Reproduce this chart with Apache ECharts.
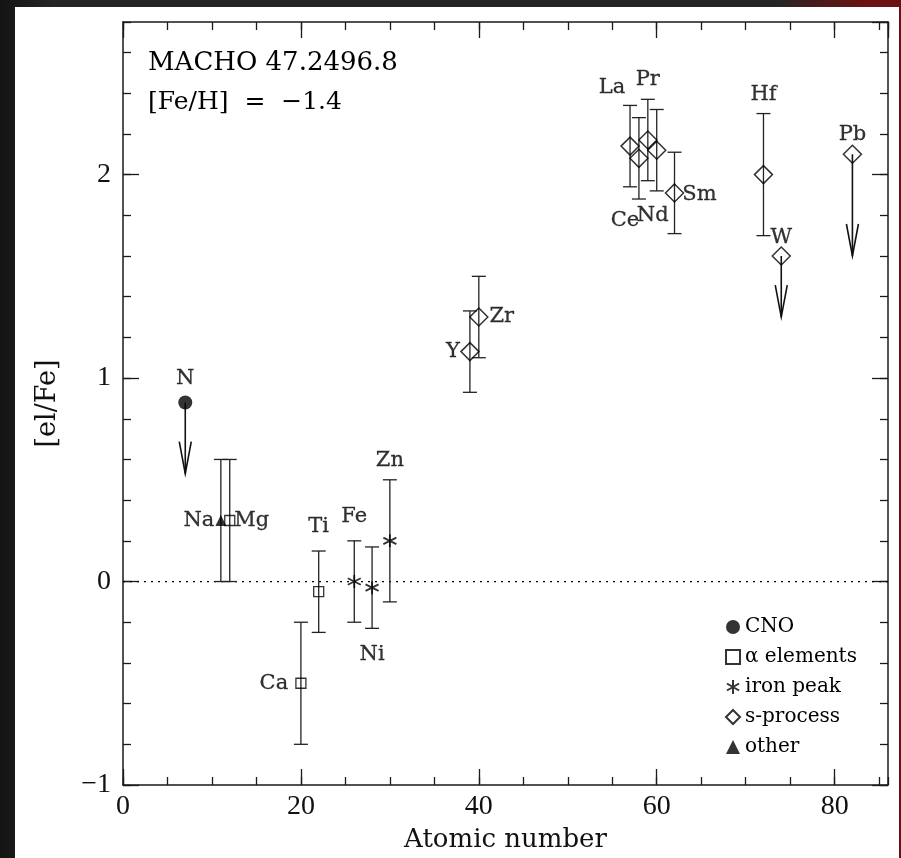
<!DOCTYPE html>
<html>
<head>
<meta charset="utf-8">
<script src="https://cdn.jsdelivr.net/npm/echarts@6/dist/echarts.min.js"></script>
<style>
html, body { margin: 0; padding: 0; width: 901px; height: 858px; overflow: hidden;
  background: linear-gradient(90deg, #141414 0%, #252525 6%, #252525 86%, #6b1111 96%); }
#paper { position: absolute; left: 15px; top: 7px; width: 884px; height: 851px; background: #fff; }
#charts { position: absolute; left: 0; top: 0; width: 901px; height: 858px; }
</style>
</head>
<body>
<div id="paper"></div>
<div id="charts"></div>
<script>
// abundances
var elements     = ['N', 'Na', 'Mg', 'Ca', 'Ti', 'Fe', 'Ni', 'Zn', 'Y', 'Zr', 'La', 'Ce', 'Pr', 'Nd', 'Sm', 'Hf', 'W', 'Pb'];
var atomicNumber = [7, 11, 12, 20, 22, 26, 28, 30, 39, 40, 57, 58, 59, 60, 62, 72, 74, 82];
var elFe         = [0.88, 0.30, 0.30, -0.50, -0.05, 0.00, -0.03, 0.20, 1.13, 1.30, 2.14, 2.08, 2.17, 2.12, 1.91, 2.00, 1.60, 2.10];
var elFeErr      = [null, 0.30, 0.30, 0.30, 0.20, 0.20, 0.20, 0.30, 0.20, 0.20, 0.20, 0.20, 0.20, 0.20, 0.20, 0.30, null, null];
var limitDrop    = [0.35, null, null, null, null, null, null, null, null, null, null, null, null, null, null, null, 0.30, 0.50];
var group        = ['CNO', 'other', 'α elements', 'α elements', 'α elements', 'iron peak', 'iron peak', 'iron peak',
                    's-process', 's-process', 's-process', 's-process', 's-process', 's-process', 's-process',
                    's-process', 's-process', 's-process'];
var groupNames   = ['CNO', 'α elements', 'iron peak', 's-process', 'other'];

// where each element name sits relative to its marker (px)
var labelOffset = {
  N: [0, -24], Na: [-22, 0], Mg: [22, 0], Ca: [-27, 0], Ti: [0, -65], Fe: [0, -65], Ni: [0, 67], Zn: [0, -80],
  Y: [-17, 0], Zr: [23, 0], La: [-18, -59], Ce: [-14, 62], Pr: [0, -60], Nd: [-4, 65], Sm: [25, 2],
  Hf: [0, -80], W: [0, -18], Pb: [0, -20]
};

var serif = 'DejaVu Serif';
var numFont = 'Liberation Serif';
var ink = '#1a1a1a';
var star = 'path://M5,0L5,10M0.67,2.5L9.33,7.5M0.67,7.5L9.33,2.5';

var groupStyle = {
  'CNO':        { symbol: 'circle', symbolSize: 14, itemStyle: { color: '#000' } },
  'α elements': { symbol: 'rect', symbolSize: 10, itemStyle: { color: 'rgba(255,255,255,0)', borderColor: '#000', borderWidth: 1.3 } },
  'iron peak':  { symbol: star, symbolSize: 13, itemStyle: { color: 'rgba(0,0,0,0)', borderColor: '#000', borderWidth: 1.8 } },
  's-process':  { symbol: 'diamond', symbolSize: 18, itemStyle: { color: 'rgba(255,255,255,0)', borderColor: '#000', borderWidth: 1.5 } },
  'other':      { symbol: 'triangle', symbolSize: 11, itemStyle: { color: '#000' } }
};

function axis(pos, min, max, interval, tickLen, opts) {
  var a = {
    type: 'value', position: pos, min: min, max: max, interval: interval,
    axisLine: { show: tickLen > 10, onZero: false, lineStyle: { color: ink, width: 1.5 } },
    axisTick: { inside: true, length: tickLen, lineStyle: { color: ink, width: 1.3 } },
    axisLabel: { show: false },
    splitLine: { show: false }
  };
  return Object.assign(a, opts || {});
}

var errData = [], limData = [];
for (var i = 0; i < elements.length; i++) {
  if (elFeErr[i] != null) errData.push([atomicNumber[i], elFe[i] - elFeErr[i], elFe[i] + elFeErr[i]]);
  if (limitDrop[i] != null) limData.push([atomicNumber[i], elFe[i], elFe[i] - limitDrop[i]]);
}

function renderErrorBar(params, api) {
  var x = api.value(0);
  var lo = api.coord([x, api.value(1)]);
  var hi = api.coord([x, api.value(2)]);
  var cap = 7;
  var st = { stroke: '#222', lineWidth: 1.3 };
  return { type: 'group', children: [
    { type: 'line', shape: { x1: hi[0], y1: hi[1], x2: lo[0], y2: lo[1] }, style: st },
    { type: 'line', shape: { x1: hi[0] - cap, y1: hi[1], x2: hi[0] + cap, y2: hi[1] }, style: st },
    { type: 'line', shape: { x1: lo[0] - cap, y1: lo[1], x2: lo[0] + cap, y2: lo[1] }, style: st }
  ] };
}

function renderArrow(params, api) {
  var x = api.value(0);
  var s = api.coord([x, api.value(1)]);
  var e = api.coord([x, api.value(2)]);
  var st = { stroke: '#111', lineWidth: 1.6, fill: null };
  return { type: 'group', children: [
    { type: 'line', shape: { x1: s[0], y1: s[1], x2: e[0], y2: e[1] }, style: st },
    { type: 'polyline', shape: { points: [[e[0] - 6, e[1] - 32], [e[0], e[1]], [e[0] + 6, e[1] - 32]] }, style: st }
  ] };
}

var scatterSeries = groupNames.map(function (g) {
  var pts = [];
  for (var i = 0; i < elements.length; i++) {
    if (group[i] !== g) continue;
    pts.push({ name: elements[i], value: [atomicNumber[i], elFe[i]], label: { offset: labelOffset[elements[i]] } });
  }
  var gs = groupStyle[g];
  return {
    name: g, type: 'scatter', xAxisIndex: 0, yAxisIndex: 0, z: 4,
    symbol: gs.symbol, symbolSize: gs.symbolSize, itemStyle: gs.itemStyle,
    label: { show: true, position: 'inside', formatter: '{b}', color: '#000', fontFamily: serif, fontSize: 21,
      textBorderColor: '#000', textBorderWidth: 0.3 },
    emphasis: { disabled: true },
    data: pts
  };
});

var chartDom = document.getElementById('charts');
var myChart = echarts.init(chartDom);
var option = {
  animation: false,
  grid: { left: 123, top: 22, right: 13, bottom: 71 },
  graphic: [
    { type: 'text', x: 148, y: 63, style: { text: 'MACHO 47.2496.8', fill: '#000', font: '26px "DejaVu Serif"', verticalAlign: 'middle' } },
    { type: 'text', x: 148, y: 102, style: { text: '[Fe/H]  =  −1.4', fill: '#000', font: '25px "DejaVu Serif"', verticalAlign: 'middle' } }
  ],
  legend: {
    orient: 'vertical', left: 720, top: 610, itemWidth: 14, itemHeight: 14, itemGap: 6,
    textStyle: { fontFamily: serif, fontSize: 20, color: '#000', lineHeight: 24 },
    data: groupNames
  },
  xAxis: [
    axis('bottom', 0, 86, 20, 16, {
      axisLabel: { show: true, margin: 8, showMaxLabel: false, color: '#111', fontFamily: numFont, fontSize: 28 },
      name: 'Atomic number', nameLocation: 'middle', nameGap: 42,
      nameTextStyle: { fontFamily: serif, fontSize: 26, color: '#111' }
    }),
    axis('bottom', 0, 86, 5, 8),
    axis('top', 0, 86, 20, 16),
    axis('top', 0, 86, 5, 8)
  ],
  yAxis: [
    axis('left', -1, 2.75, 1, 16, {
      axisLabel: { show: true, margin: 12, showMaxLabel: false, color: '#111', fontFamily: numFont, fontSize: 28,
        formatter: function (v) { return v < 0 ? '−' + Math.abs(v) : String(v); } },
      name: '[el/Fe]', nameLocation: 'middle', nameGap: 62, nameRotate: 90,
      nameTextStyle: { fontFamily: serif, fontSize: 27, color: '#111' }
    }),
    axis('left', -1, 2.75, 0.2, 8),
    axis('right', -1, 2.75, 1, 16),
    axis('right', -1, 2.75, 0.2, 8)
  ],
  series: [
    {
      type: 'line', xAxisIndex: 0, yAxisIndex: 0, data: [[0, 0], [86, 0]], symbol: 'none', silent: true, z: 1,
      lineStyle: { color: '#000', width: 1.2, type: [2, 5] }
    },
    { type: 'custom', xAxisIndex: 0, yAxisIndex: 0, z: 2, silent: true, renderItem: renderErrorBar, data: errData },
    { type: 'custom', xAxisIndex: 0, yAxisIndex: 0, z: 2, silent: true, renderItem: renderArrow, data: limData }
  ].concat(scatterSeries)
};

option && myChart.setOption(option);
</script>
</body>
</html>
